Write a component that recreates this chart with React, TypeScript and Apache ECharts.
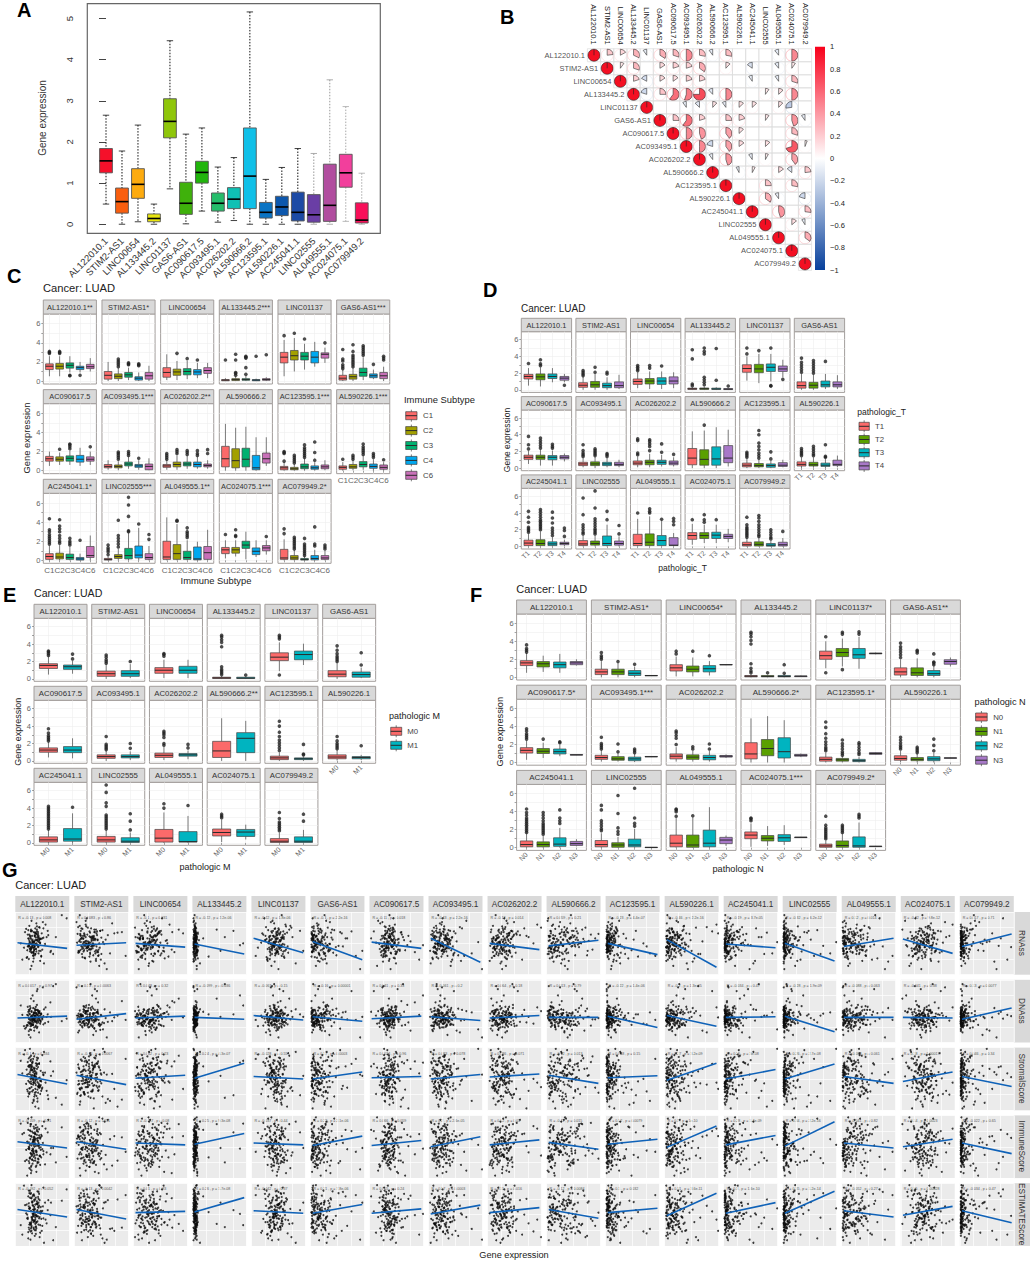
import { useEffect, useRef } from 'react';
import * as echarts from 'echarts';

const FONT = '"Liberation Sans", Arial, sans-serif';

const genes = ['AL122010.1', 'STIM2-AS1', 'LINC00654', 'AL133445.2', 'LINC01137', 'GAS6-AS1', 'AC090617.5', 'AC093495.1', 'AC026202.2', 'AL590666.2', 'AC123595.1', 'AL590226.1', 'AC245041.1', 'LINC02555', 'AL049555.1', 'AC024075.1', 'AC079949.2'];

// Panel A: min, q1, median, q3, max
const exprBoxes = [[.49, 1.25, 1.54, 1.84, 2.65], [0, .27, .55, .88, 1.78], [.06, .63, .97, 1.35, 2.41], [0, .06, .14, .25, .49], [.86, 2.1, 2.5, 3.05, 4.46], [.01, .24, .51, 1.02, 2.19], [.32, 1, 1.26, 1.53, 2.34], [.05, .32, .51, .76, 1.39], [.09, .38, .61, .89, 1.62], [0, .38, 1.17, 2.34, 5.16], [0, .15, .29, .53, 1.09], [0, .21, .42, .68, 1.38], [0, .08, .29, .78, 1.84], [0, .05, .23, .72, 1.72], [0, .07, .46, 1.46, 3.51], [.07, .9, 1.25, 1.7, 2.86], [0, .03, .1, .52, 1.24]];
const exprColors = ['#f5102a', '#f95e0e', '#fdab0f', '#e8e40e', '#8fc60a', '#3fb10b', '#21b50c', '#25bd6b', '#0fc0b4', '#10c0e8', '#0a74c4', '#0c57ad', '#1c4aa5', '#6a3ea5', '#b14d9f', '#f23f9c', '#f80f59'];
const exprWhiskers = ['#111', '#111', '#111', '#111', '#111', '#111', '#111', '#111', '#111', '#111', '#111', '#111', '#111', '#999', '#999', '#aaa', '#aaa'];

// Panel B: upper triangle of the correlation matrix, each row starts on the diagonal
const corrRows = [
  [1, .23, .17, .32, -.1, .34, .3, .5, .28, -.1, .28, 0, 0, 0, -.11, .5, 0],
  [1, .1, .3, 0, .16, .2, .2, .35, 0, .12, 0, -.15, 0, -.11, .1, 0],
  [1, .2, -.17, .16, .15, .2, .2, 0, 0, 0, -.1, 0, -.1, .3, 0],
  [1, -.2, .25, .6, .55, .75, -.12, .5, 0, 0, .1, .13, .5, 0],
  [1, 0, 0, -.1, -.13, .12, -.1, .13, .13, 0, .12, -.27, 0],
  [1, .25, .6, .2, 0, .25, .2, 0, .1, 0, .45, -.1],
  [1, .5, .45, 0, .4, .13, 0, 0, 0, .3, 0],
  [1, .5, -.2, .4, .15, 0, .13, 0, .7, .06],
  [1, -.1, .45, 0, -.1, .08, 0, .4, 0],
  [1, 0, -.08, .08, 0, .15, -.14, .23],
  [1, 0, 0, .25, 0, .28, 0],
  [1, 0, .35, -.1, 0, -.2],
  [1, 0, .45, 0, .27],
  [1, 0, .14, -.09],
  [1, 0, .35],
  [1, 0],
  [1],
];

// Panel C
const immuneStrips = ['AL122010.1**', 'STIM2-AS1*', 'LINC00654', 'AL133445.2***', 'LINC01137', 'GAS6-AS1***', 'AC090617.5', 'AC093495.1***', 'AC026202.2**', 'AL590666.2', 'AC123595.1***', 'AL590226.1***', 'AC245041.1*', 'LINC02555***', 'AL049555.1**', 'AC024075.1***', 'AC079949.2*'];
const immuneLevels = ['C1', 'C2', 'C3', 'C4', 'C6'];
const immuneColors = ['#fb6a6a', '#a3a000', '#00b070', '#00a8f0', '#c870b8'];
const immuneBoxes = [
  [[.5, 1.2, 1.55, 1.8, 2.6], [.5, 1.25, 1.55, 1.85, 2.6], [.9, 1.35, 1.65, 1.9, 2.6], [.9, 1.2, 1.4, 1.55, 2], [1, 1.3, 1.5, 1.75, 2.4]],
  [[0, .2, .6, 1, 2], [0, .25, .5, .75, 1.4], [.1, .4, .65, .9, 1.4], [0, .1, .3, .45, .9], [0, .2, .55, .9, 1.6]],
  [[.1, .4, .9, 1.4, 2.8], [.1, .6, .95, 1.25, 2.1], [.2, .65, 1, 1.3, 2.1], [.3, .65, .95, 1.2, 1.9], [.3, .8, 1.1, 1.4, 1.9]],
  [[0, .03, .1, .15, .3], [0, .05, .15, .25, .5], [0, .08, .15, .25, .5], [0, .03, .1, .15, .25], [0, .08, .15, .25, .4]],
  [[.5, 1.9, 2.5, 3, 4.3], [1, 2.2, 2.65, 3.2, 4.5], [1.2, 2.2, 2.6, 3, 3.9], [1.5, 1.9, 2.5, 3.1, 4.1], [1.9, 2.4, 2.8, 2.95, 3.5]],
  [[0, .1, .3, .6, 1.2], [0, .2, .45, .7, 1.4], [.1, .5, .9, 1.35, 2.5], [.2, .35, .55, .75, 1.2], [0, .25, .55, .9, 1.5]],
  [[.5, 1, 1.25, 1.5, 2], [.6, 1, 1.2, 1.45, 1.9], [.6, 1, 1.3, 1.55, 2.1], [.5, .9, 1.2, 1.6, 2.4], [.6, 1, 1.2, 1.45, 2]],
  [[.1, .3, .45, .65, 1.1], [.05, .3, .45, .6, 1], [.2, .5, .7, .9, 1.5], [.1, .35, .5, .65, 1.1], [.05, .1, .45, .7, 1.3]],
  [[.1, .35, .5, .65, 1.1], [.1, .4, .65, .9, 1.6], [.2, .5, .7, .9, 1.6], [.2, .4, .65, .9, 1.5], [.2, .4, .55, .7, 1.1]],
  [[0, .4, 1.25, 2.55, 4.9], [0, .3, 1.05, 2.3, 4.5], [0, .4, 1.2, 2.35, 4.6], [0, .1, .3, 1.6, 3.5], [.5, .8, 1.25, 1.85, 3.5]],
  [[0, .1, .3, .45, .9], [0, .1, .2, .35, .7], [0, .2, .4, .7, 1.3], [0, .15, .3, .5, .9], [.05, .2, .4, .6, 1.1]],
  [[0, .15, .35, .5, .9], [.05, .25, .4, .65, 1.1], [.1, .4, .65, .95, 1.6], [0, .25, .45, .7, 1.2], [0, .15, .35, .6, .9]],
  [[0, .1, .4, .7, 1.5], [0, .15, .35, .75, 1.6], [0, .1, .3, .65, 1.4], [0, .03, .15, .3, .7], [0, .3, .5, 1.45, 2.6]],
  [[0, .03, .1, .2, .4], [0, .2, .4, .6, 1.2], [0, .15, .5, 1.25, 2.9], [0, .25, .55, 1.5, 3.4], [0, .1, .3, .7, 1.5]],
  [[0, .1, .35, 2, 4.5], [0, .1, .7, 1.65, 3.8], [0, .1, .3, .95, 2.1], [0, .05, .15, 1.4, 1.95], [0, .1, .8, 1.45, 3.2]],
  [[.2, .7, 1.1, 1.35, 2.1], [.4, .75, 1.1, 1.35, 2.1], [.1, 1.25, 1.6, 2, 3], [.35, .6, .95, 1.3, 2.1], [.6, 1, 1.3, 1.55, 2.1]],
  [[0, .1, .25, 1.15, 2.2], [0, .08, .25, .5, 1.1], [0, .03, .1, .2, .45], [0, .05, .2, .5, 1.1], [0, .1, .25, .5, 1]],
];
const immuneOutliers = [
  [[2.9, 3, 3.1], [2.9, 3, 3.1], [.55, .6], [.6], []],
  [[], [1.5, 1.7, 1.9, 2.1, 2.3], [1.7, 1.8, 1.9], [1.6, 1.7, 1.8], []],
  [[], [2.9], [2.35], [2.2], []],
  [[2.2], [.6, .8, .9, 2.2, 2.8], [.7, 1.4, 2.4, 2.5, 2.6], [2.6], [2.75]],
  [[4.75], [5], [4.4], [], [4]],
  [[1.3, 1.5, 1.7, 2.1, 2.3, 3.3], [1.5, 1.7, 1.9, 2.1, 2.3, 2.5, 2.7, 3.1, 3.8], [2.7, 2.9, 3.1, 3.3, 3.5, 3.7], [1.75], [2.2, 2.4, 2.6]],
  [[], [2.25], [2.3, 2.5, 2.7, 2.8], [], [2.5]],
  [[], [1.2, 1.4, 1.6, 1.8, 1.95], [1.6, 1.8, 2], [1.3], []],
  [[1.2, 1.4, 1.6, 1.8], [1.8, 2, 2.2], [1.7, 1.9, 2.1], [1.6, 1.8, 2.1], [1.8, 2.2]],
  [[], [], [], [], []],
  [[1, 1.8, 1.9, 2], [.8, 1, 1.2, 1.4, 1.6], [1.4, 1.6, 1.8, 2, 2.2, 2.4, 2.7], [1.1, 1.9, 3], []],
  [[1.2], [1.2, 1.4, 1.6], [1.7, 1.9, 2.1, 2.3, 2.5, 2.8], [1.4, 1.6, 1.8], [1.15]],
  [[1.7, 1.9, 2.1, 2.3, 2.5, 2.7, 3, 3.2, 4.35], [1.8, 2, 2.3, 2.6, 3, 3.3, 3.6, 4.25], [1.6, 1.8, 2, 2.3], [2.1], []],
  [[.6, .9, 1.1, 1.3, 1.6], [1.4, 1.7, 2, 2.3, 2.6, 4.2], [3, 3.1, 4.6, 5.8, 6.6], [3.8], [2.2, 2.7]],
  [[], [4.1, 4.2], [2.4, 2.6, 2.8, 3, 3.4], [], []],
  [[2.7], [2.5, 2.6, 3.2], [], [], [2.5]],
  [[2.8, 3.3], [1.2, 1.4, 1.6, 1.8, 2, 2.2, 2.4], [.5, .7, .9, 1.1, 1.3, 1.5, 1.7, 2.3], [1.5, 1.7, 3.5], [1.2, 1.4, 1.6]],
];

// Panel D
const stageLevels = ['T1', 'T2', 'T3', 'T4'];
const stageColors = ['#fb6a6a', '#5aa000', '#00b4c0', '#a878c8'];
const stageBoxes = [
  [[.5, 1.3, 1.6, 1.85, 2.6], [.4, 1.2, 1.55, 1.9, 2.7], [.9, 1.35, 1.6, 1.9, 2.6], [.9, 1.15, 1.4, 1.6, 1.9]],
  [[0, .3, .55, .85, 1.6], [0, .3, .6, 1, 1.9], [0, .25, .5, .8, 1.5], [.1, .25, .5, .95, 1.8]],
  [[.2, .65, 1, 1.3, 2.1], [.1, .7, 1.05, 1.35, 2.2], [.1, .65, 1.05, 1.45, 2.2], [.2, .7, 1.05, 1.55, 2.1]],
  [[0, .05, .12, .2, .35], [0, .05, .13, .22, .4], [0, .05, .1, .2, .3], [0, .03, .08, .15, .25]],
  [[1.1, 2.1, 2.55, 3, 4], [.8, 2.05, 2.5, 3.05, 4.3], [1, 2.2, 2.7, 3.1, 4.3], [1.5, 2.2, 2.5, 2.85, 3.6]],
  [[0, .2, .5, .95, 1.9], [0, .2, .55, .9, 1.8], [.1, .35, .6, 1.05, 1.9], [.1, .35, .6, .95, 1.75]],
  [[.5, 1.05, 1.3, 1.55, 2.1], [.3, 1.05, 1.3, 1.55, 2.2], [.3, 1, 1.3, 1.5, 2.1], [.8, 1.1, 1.3, 1.5, 1.75]],
  [[.1, .3, .5, .7, 1.2], [0, .3, .5, .75, 1.3], [.1, .3, .5, .7, 1.2], [.1, .3, .45, .7, 1]],
  [[.1, .4, .6, .85, 1.4], [.1, .4, .7, .95, 1.7], [.2, .45, .7, .95, 1.6], [.2, .4, .6, .85, 1.3]],
  [[0, .4, 1.2, 2.35, 4.4], [0, .35, 1.05, 2.2, 4.5], [0, .35, 1.1, 2.55, 4.9], [.2, .65, 1.2, 2.7, 4.6]],
  [[0, .15, .35, .6, 1.1], [0, .15, .3, .55, 1], [0, .1, .3, .5, .9], [.1, .2, .35, .65, 1]],
  [[0, .25, .45, .75, 1.3], [.05, .25, .4, .7, 1.3], [0, .2, .35, .6, 1.1], [.1, .3, .45, .95, 1.5]],
  [[0, .1, .4, .75, 1.5], [0, .1, .35, .8, 1.8], [0, .1, .3, .55, 1.1], [.05, .2, .35, .5, .8]],
  [[0, .1, .3, .7, 1.3], [0, .15, .35, .65, 1.3], [0, .1, .35, 1.25, 2.6], [0, .15, .35, .65, 1.2]],
  [[0, .1, .35, 1.45, 3.3], [0, .1, .5, 1.5, 3.6], [0, .1, .7, 1.3, 3.1], [0, .1, .15, 1.05, 1.6]],
  [[.2, .85, 1.3, 1.65, 2.7], [.4, .95, 1.3, 1.65, 2.6], [.4, .95, 1.35, 1.7, 2.6], [.5, .95, 1.2, 1.45, 2.1]],
  [[0, .05, .2, .5, 1], [0, .05, .25, .55, 1.1], [0, .03, .15, .35, .7], [0, .05, .2, .5, 1]],
];
const stageOutliers = [
  [[3.15], [2.9, 3.1, 3.6], [], [.55]],
  [[1.7, 1.9, 2.1, 2.3], [2.1, 2.7], [1.9, 2.1], []],
  [[2.3, 2.5, 2.7, 2.9], [2.6, 2.9], [2.85], []],
  [[.5, .7, 3.7, 4.8], [.6, .9, 1.2, 1.5, 4.3, 4.6, 5], [1.15, 4.95], [.45]],
  [[4.3, 5], [4.7], [.45, .5, 5], [1.25]],
  [[2.1, 2.4, 2.7, 3, 3.3, 3.8], [2, 2.3, 2.6, 2.9, 3.2, 3.5], [3.4], []],
  [[2.3, 2.8, 3.8], [2.4, 2.7, 3, 3.3, 3.6], [2.4, 2.6, 2.85], []],
  [[1.4, 1.6, 1.8, 2.1, 2.8], [1.5, 1.7, 1.9, 2.1, 2.3], [1.4, 1.6, 1.75], []],
  [[1.6, 1.8, 3.3, 3.5], [2.1, 2.6, 2.9, 3.2, 3.4], [1.9, 2.9], [1.65]],
  [[], [5.15], [], []],
  [[1.3, 1.5, 1.7, 1.9], [1.2, 1.5, 1.8, 2.2, 2.6, 3, 4, 4.5], [1.1, 1.95], []],
  [[1.5, 1.7, 1.9, 2.1, 2.35], [1.5, 1.7, 2, 2.3, 2.6], [1.3, 1.4, 2.8], []],
  [[1.7, 1.9, 2.1, 2.3, 2.9, 3.5, 4.2], [2, 2.2, 2.4, 2.6, 2.8, 3, 3.2, 3.5, 3.8, 4.1, 4.4], [1.3, 1.6, 1.9, 2.2, 2.8, 3.4, 4.1], [1.2, 1.9, 2.2]],
  [[1.5, 1.7, 2, 2.3, 2.6, 3.8, 5.8], [1.5, 1.7, 1.9, 2.1, 2.4, 2.7, 3, 3.3, 4.6, 6.65], [3.2, 4.2], [1.5, 2.5]],
  [[4], [4, 4.2, 4.5], [3.25], [2.6, 3, 3.35]],
  [[3.2], [2.9, 3.2, 3.8], [3.2], []],
  [[1.1, 1.3, 1.5, 1.7, 1.9, 2.1, 2.3, 2.6, 3.5], [1.2, 1.4, 1.7, 2, 2.3, 2.6, 3, 3.4, 3.7], [.9, 1.1, 1.4, 1.7, 2], [1.8]],
];

// Panel E
const metaStrips = genes.map((g) => (g === 'AL590666.2' ? g + '**' : g));
const metaLevels = ['M0', 'M1'];
const metaColors = ['#fb6a6a', '#00b4c0'];
const metaBoxes = [
  [[.5, 1.2, 1.55, 1.75, 2.6], [.6, 1.1, 1.4, 1.6, 2.1]],
  [[0, .3, .6, .9, 1.7], [.1, .3, .6, .95, 1.7]],
  [[.1, .65, 1, 1.3, 2.2], [.1, .65, 1, 1.45, 2.2]],
  [[0, .05, .12, .2, .35], [0, .05, .1, .2, .3]],
  [[.9, 2.1, 2.5, 3, 4.2], [1.6, 2.2, 2.8, 3.2, 4.05]],
  [[0, .25, .55, .95, 1.9], [.1, .2, .5, .8, 1.3]],
  [[.4, 1, 1.25, 1.5, 2.2], [.3, .95, 1.25, 1.65, 2.6]],
  [[0, .3, .5, .7, 1.2], [.1, .35, .5, .7, 1.1]],
  [[.1, .4, .65, .9, 1.6], [.2, .55, .7, .85, 1.2]],
  [[0, .4, 1.15, 2.25, 4.9], [0, .95, 2.6, 3.25, 4.6]],
  [[0, .15, .35, .55, 1], [0, .15, .25, .35, .5]],
  [[.05, .25, .45, .7, 1.3], [.1, .25, .4, .5, .7]],
  [[0, .1, .35, .7, 1.5], [0, .2, .45, 1.65, 3.4]],
  [[0, .1, .35, .75, 1.5], [0, .05, .2, .6, 1.2]],
  [[0, .1, .55, 1.55, 3.5], [0, .1, .15, 1.3, 3.1]],
  [[.1, .8, 1.2, 1.6, 2.7], [.4, .75, 1.25, 1.55, 2.1]],
  [[0, .05, .2, .5, 1.2], [0, .05, .2, .7, 1.5]],
];
const metaOutliers = [
  [[2.7, 2.9, 3.1, 3.2], [2.3, 2.85]],
  [[1.8, 2, 2.2, 2.5, 2.75], [2]],
  [[2.6, 2.8, 2.9], []],
  [[.5, .7, .9, 1.1, 1.4, 3.7, 4.2, 4.5, 4.8, 5], [.45]],
  [[.45, 4.6, 4.8, 5], []],
  [[2, 2.2, 2.4, 2.6, 2.9, 3.3, 3.8], [1.6, 3]],
  [[2.3, 2.5, 2.7, 2.9, 3.2, 3.7], []],
  [[1.3, 1.5, 1.7, 1.9, 2.8], [1.45, 2]],
  [[1.8, 2, 2.7, 3, 3.2, 3.4], [1.5, 1.9]],
  [[], []],
  [[1.2, 1.5, 1.8, 2.1, 2.4, 2.8, 3.3, 4, 4.55], [.7, .8, 1.9]],
  [[1.4, 1.6, 1.8, 2, 2.3, 2.8], [1.75]],
  [[1.6, 1.8, 2, 2.2, 2.4, 2.6, 2.8, 3, 3.2, 3.4, 3.6, 3.8, 4, 4.2], [4.1]],
  [[1.6, 1.8, 2, 2.2, 2.4, 2.6, 2.8, 3, 3.2, 4.2, 4.6, 5.8, 6.65], [1.5, 2.5, 3.35]],
  [[4, 4.5], [4.3]],
  [[2.9, 3.1, 3.3], []],
  [[1.4, 1.6, 1.8, 2, 2.2, 2.4, 2.8, 3.5], [2.5, 3.3]],
];

// Panel F
const nodeStrips = ['AL122010.1', 'STIM2-AS1*', 'LINC00654*', 'AL133445.2', 'LINC01137*', 'GAS6-AS1**', 'AC090617.5*', 'AC093495.1***', 'AC026202.2', 'AL590666.2*', 'AC123595.1*', 'AL590226.1', 'AC245041.1', 'LINC02555', 'AL049555.1', 'AC024075.1***', 'AC079949.2*'];
const nodeLevels = ['N0', 'N1', 'N2', 'N3'];
const nodeColors = ['#fb6a6a', '#5aa000', '#00b4c0', '#a878c8'];
const nodeBoxes = [
  [[.5, 1.3, 1.6, 1.85, 2.7], [.6, 1.15, 1.5, 1.75, 2.4], [.5, 1.05, 1.4, 1.7, 2.6], [1.3, 1.4, 1.6, 1.75, 2]],
  [[0, .3, .6, .9, 1.8], [0, .3, .6, .9, 1.6], [0, .2, .45, .75, 1.2], [.15, .15, .2, .2, .22]],
  [[.1, .7, 1.05, 1.4, 2.3], [.1, .6, .9, 1.25, 2.2], [.2, .6, .95, 1.3, 1.8], [1.35, 1.38, 1.4, 1.42, 1.45]],
  [[0, .05, .12, .2, .35], [0, .05, .1, .2, .3], [0, .05, .1, .2, .3], [.05, .07, .12, .15, .2]],
  [[1, 2, 2.4, 2.9, 4], [1.2, 2.3, 2.75, 3.2, 4.3], [.95, 2.1, 2.5, 3.2, 4.5], [2.55, 2.6, 2.65, 2.7, 2.75]],
  [[0, .25, .6, 1.05, 2], [0, .2, .5, 1.05, 2.1], [0, .2, .4, .75, 1.3], [1.2, 1.45, 1.75, 1.95, 2.2]],
  [[.3, 1.05, 1.35, 1.65, 2.4], [.5, 1, 1.25, 1.55, 2.2], [.7, .95, 1.2, 1.5, 2], [.8, .82, .85, .88, .9]],
  [[.1, .35, .55, .8, 1.4], [.1, .25, .4, .65, 1.1], [.05, .2, .4, .6, 1], [.6, .62, .65, .67, .7]],
  [[.1, .4, .7, .95, 1.7], [.1, .35, .6, .85, 1.3], [.1, .3, .55, .8, 1.3], [.5, .6, .7, .78, .9]],
  [[0, .4, .95, 2.2, 4.9], [0, .75, 1.55, 2.55, 5.15], [0, .5, 1.2, 2.75, 4.7], [.6, .7, .8, .9, 1]],
  [[0, .15, .35, .6, 1.1], [0, .15, .3, .45, .7], [0, .1, .2, .35, .6], [.85, .9, 1, 1.1, 1.15]],
  [[.05, .25, .45, .75, 1.3], [0, .2, .35, .55, 1], [0, .2, .4, .65, 1.1], [.45, .47, .5, .52, .55]],
  [[0, .1, .35, .75, 1.6], [0, .1, .35, .65, 1.3], [0, .15, .4, 1.1, 2.2], [.15, .25, .45, .7, .95]],
  [[0, .1, .35, .8, 1.6], [0, .05, .3, .55, 1.2], [0, .1, .3, .95, 2.1], [0, .02, .03, .05, .08]],
  [[0, .1, .5, 1.4, 3.3], [0, .05, .3, 1.4, 3.4], [0, .1, .5, 1.95, 4.5], [.2, .45, .85, 1.15, 1.35]],
  [[.1, 1, 1.4, 1.75, 2.7], [.2, .75, 1.05, 1.35, 2.4], [.3, .7, 1.1, 1.45, 2.5], [1.1, 1.12, 1.15, 1.18, 1.2]],
  [[0, .05, .2, .4, .8], [0, .05, .25, .75, 1.6], [0, .05, .2, 1.2, 2.8], [.1, .12, .15, .17, .2]],
];
const nodeOutliers = [
  [[2.8, 3, 3.2, 3.6], [], [], []],
  [[2, 2.2, 2.4, 2.75], [1.75], [1.45], []],
  [[2.6, 2.9], [2.9], [2.4], []],
  [[.5, .7, 1, 1.5, 3.7, 4.1, 4.5, 4.8, 5], [.5], [.45, 1.4], []],
  [[.5, 4.5], [.85, 4.8, 5], [4.8, 5.05], []],
  [[2.2, 2.5, 2.8, 3.1, 3.4, 3.8], [2.7, 2.9, 3], [1.4, 1.6, 1.7, 2.6], []],
  [[2.6, 2.8, 3, 3.2, 3.5, 3.75], [2.6], [2.2, 2.3], []],
  [[1.5, 1.7, 1.9, 2.1, 2.8], [1.2, 2.05], [1.1, 1.3, 1.5], []],
  [[2, 2.7, 3, 3.3, 3.5], [1.5, 1.75], [1.5, 2.05], []],
  [[], [], [], []],
  [[1.3, 1.5, 1.7, 2, 2.3, 2.7, 3.2, 3.9, 4.5], [.8, 1, 1.2, 1.5, 1.8, 2.1, 2.5], [.9, 1.1, 1.4, 1.7, 2, 2.2], []],
  [[1.5, 1.7, 1.9, 2.2, 2.5, 2.8], [1.1, 1.3, 1.5, 1.7], [1.3, 1.9, 2.6], []],
  [[1.7, 1.9, 2.1, 2.3, 2.5, 2.7, 2.9, 3.1, 3.3, 3.6, 3.9, 4.3], [1.5, 1.7, 1.9, 2.1, 2.3, 2.5, 2.7, 3, 3.3, 3.6, 3.9], [2.7, 3, 3.3, 4.2], []],
  [[1.9, 2.1, 2.4, 2.7, 3, 4.2, 4.7], [1.5, 1.8, 2.2, 3.8, 5.8], [2.4, 2.7, 3.3, 6.6], []],
  [[3.5, 4, 4.2, 4.3], [3.55], [], []],
  [[3, 3.2, 3.3], [], [], []],
  [[1, 1.2, 1.4, 1.6, 1.8, 2, 2.2, 2.5, 3.5], [1.7, 1.9, 2.1, 2.3, 2.5], [3.3, 3.5, 3.7], []],
];

// Panel G: samples on a 0-100 scale of each panel, a sample keeps its position in every list
const scoreNames = ['RNAss', 'DNAss', 'StromalScore', 'ImmuneScore', 'ESTIMATEScore'];
const rnaScore = [52, 61, 44, 70, 38, 57, 66, 49, 35, 73, 55, 42, 63, 31, 78, 47, 59, 26, 68, 51, 40, 74, 33, 56, 64, 45, 82, 37, 60, 53, 29, 71, 48, 86, 43, 58, 21, 67, 50, 36, 76, 46, 62, 18, 54, 39, 69, 90, 34, 57, 72, 41, 24, 65, 49, 80, 30, 60, 44, 14, 75, 52, 37, 95, 47, 66, 27, 56, 40, 70, 9, 62, 50, 33, 84, 45, 58, 22, 68, 38,
  48, 55, 41, 63, 52, 36, 59, 46, 68, 43, 57, 50, 33, 62, 47, 54, 39, 65, 44, 58, 51, 30, 61, 45, 72, 49, 37, 56, 42, 66, 53, 28, 60, 46, 70, 40, 55, 48, 34, 64, 50, 43, 59, 38, 67, 52, 45, 77, 35, 57, 47, 62, 41, 53, 31, 69, 49, 58, 44, 25, 63, 51, 39, 55, 46, 74, 42, 60, 36, 50];
const dnaScore = [42, 35, 51, 28, 46, 38, 57, 31, 44, 24, 49, 40, 33, 54, 37, 60, 29, 47, 22, 43, 36, 52, 90, 39, 27, 48, 34, 58, 41, 19, 45, 32, 85, 50, 26, 37, 55, 43, 30, 64, 16, 46, 35, 53, 41, 28, 82, 38, 48, 33, 70, 25, 44, 39, 12, 56, 36, 93, 42, 30, 50, 21, 47, 34, 75, 40, 27, 52, 37, 45, 8, 32, 59, 43, 88, 29, 49, 35, 66, 41,
  38, 44, 31, 48, 36, 41, 27, 52, 34, 45, 39, 30, 47, 42, 25, 50, 37, 33, 55, 40, 28, 46, 35, 43, 23, 49, 32, 38, 53, 41, 29, 44, 36, 47, 20, 39, 51, 33, 42, 30, 46, 37, 26, 48, 40, 34, 57, 31, 43, 35, 24, 45, 38, 50, 28, 41, 33, 47, 36, 18, 44, 39, 30, 52, 35, 42, 27, 46, 37, 32];
const stromalScore = [55, 72, 38, 64, 47, 83, 29, 60, 91, 42, 75, 52, 18, 67, 35, 80, 57, 44, 96, 26, 70, 49, 62, 12, 77, 39, 58, 85, 31, 66, 46, 22, 73, 54, 89, 36, 61, 6, 50, 78, 41, 69, 25, 93, 56, 33, 74, 48, 15, 63, 87, 40, 59, 28, 71, 44, 82, 20, 53, 68, 37, 98, 51, 9, 76, 34, 65, 45, 86, 24, 57, 3, 79, 43, 60, 30, 70, 47, 17, 55,
  48, 66, 35, 58, 74, 42, 53, 27, 69, 45, 81, 38, 62, 50, 33, 72, 56, 23, 64, 43, 78, 31, 59, 47, 84, 37, 68, 52, 29, 75, 41, 57, 19, 63, 46, 88, 34, 70, 51, 26, 60, 44, 79, 36, 55, 65, 30, 49, 73, 40, 22, 61, 54, 83, 32, 67, 47, 39, 76, 58, 14, 50, 43, 71, 28, 56, 64, 37, 52, 45];
const immuneScore = [58, 40, 74, 30, 65, 50, 85, 22, 61, 45, 78, 35, 93, 54, 16, 69, 43, 82, 27, 63, 8, 71, 48, 37, 88, 56, 20, 76, 41, 66, 33, 95, 52, 12, 72, 46, 59, 28, 83, 38, 68, 24, 55, 90, 44, 4, 75, 34, 62, 49, 86, 18, 70, 31, 57, 79, 42, 25, 64, 97, 36, 53, 10, 81, 47, 67, 29, 60, 39, 73, 14, 51, 87, 32, 56, 44, 77, 21, 65, 48,
  46, 63, 32, 71, 52, 38, 80, 27, 59, 43, 67, 35, 55, 74, 24, 49, 61, 41, 86, 30, 57, 69, 36, 47, 77, 20, 53, 65, 33, 44, 72, 58, 26, 50, 39, 83, 62, 29, 54, 68, 42, 34, 75, 48, 60, 23, 56, 37, 66, 45, 79, 31, 51, 64, 40, 18, 70, 35, 55, 47, 81, 28, 62, 43, 73, 38, 52, 25, 58, 46];
const estimateScore = [62, 34, 78, 45, 56, 88, 25, 69, 41, 52, 83, 30, 73, 16, 59, 47, 93, 38, 65, 21, 76, 50, 9, 70, 43, 86, 28, 61, 36, 80, 54, 12, 67, 46, 96, 32, 58, 74, 23, 49, 64, 84, 39, 5, 71, 44, 55, 90, 27, 62, 35, 77, 18, 53, 68, 42, 81, 30, 48, 97, 14, 60, 37, 72, 51, 24, 66, 87, 40, 57, 10, 75, 33, 45, 63, 20, 79, 52, 29, 69,
  51, 68, 37, 59, 44, 76, 30, 63, 47, 55, 84, 33, 66, 41, 57, 26, 72, 49, 35, 61, 79, 43, 53, 22, 67, 38, 58, 46, 88, 31, 64, 50, 39, 74, 28, 56, 42, 69, 34, 60, 48, 82, 36, 54, 25, 65, 45, 71, 32, 52, 40, 77, 19, 62, 47, 56, 35, 73, 43, 29, 66, 51, 83, 38, 58, 44, 24, 69, 48, 34];
const scoreSamples = [rnaScore, dnaScore, stromalScore, immuneScore, estimateScore];
const geneSamples = [
  [35, 28, 42, 31, 47, 25, 38, 55, 33, 20, 44, 30, 61, 36, 26, 40, 52, 34, 18, 46, 29, 37, 70, 32, 23, 43, 39, 27, 58, 35, 48, 24, 41, 30, 16, 50, 33, 37, 28, 65, 44, 26, 36, 53, 31, 22, 40, 95, 34, 47, 29, 38, 13, 42, 25, 56, 33, 75, 36, 30, 45, 27, 39, 86, 32, 49, 21, 41, 35, 60, 28, 43, 10, 37, 51, 31, 24, 46, 34, 66,
    33, 40, 27, 36, 44, 30, 38, 25, 42, 34, 29, 46, 37, 31, 41, 26, 35, 39, 28, 43, 32, 48, 36, 24, 40, 30, 34, 45, 27, 38, 33, 22, 41, 35, 29, 50, 37, 31, 43, 26, 39, 34, 28, 44, 36, 32, 23, 40, 30, 47, 35, 27, 38, 42, 33, 29, 37, 45, 31, 25, 41, 34, 28, 39, 36, 52, 30, 43, 33, 26],
  [12, 33, 25, 48, 8, 39, 18, 55, 29, 15, 43, 22, 62, 35, 10, 27, 50, 20, 37, 5, 45, 31, 14, 58, 24, 41, 70, 17, 34, 9, 28, 52, 38, 21, 47, 13, 30, 80, 26, 44, 7, 36, 19, 56, 32, 11, 42, 23, 66, 16, 40, 28, 49, 6, 35, 21, 95, 30, 15, 46, 25, 53, 38, 10, 33, 74, 19, 43, 27, 12, 60, 36, 22, 50, 4, 31, 17, 40, 88, 24,
    20, 35, 14, 42, 27, 9, 31, 18, 38, 24, 12, 46, 29, 16, 34, 22, 40, 11, 26, 33, 19, 44, 28, 13, 37, 23, 8, 32, 17, 41, 25, 15, 36, 21, 48, 30, 10, 27, 39, 19, 34, 24, 14, 43, 29, 17, 33, 22, 7, 37, 26, 12, 31, 20, 45, 28, 16, 35, 23, 40, 11, 30, 18, 38, 25, 13, 34, 21, 42, 27],
  [22, 41, 10, 35, 55, 17, 47, 28, 6, 38, 62, 14, 31, 50, 24, 44, 8, 58, 33, 19, 71, 27, 40, 12, 52, 36, 21, 46, 4, 30, 65, 16, 43, 25, 56, 11, 37, 49, 20, 76, 34, 7, 42, 29, 60, 15, 26, 53, 39, 18, 84, 32, 9, 45, 23, 67, 37, 13, 48, 28, 3, 41, 57, 20, 34, 92, 16, 44, 26, 51, 10, 38, 63, 22, 31, 47, 18, 35, 72, 5,
    25, 38, 14, 44, 31, 8, 35, 20, 47, 27, 12, 40, 33, 17, 29, 42, 23, 10, 36, 26, 50, 15, 32, 21, 43, 28, 7, 37, 19, 45, 30, 13, 34, 24, 41, 16, 39, 22, 52, 11, 28, 35, 18, 46, 26, 33, 9, 38, 20, 30, 43, 14, 25, 36, 17, 48, 29, 12, 32, 22, 40, 27, 15, 34, 19, 44, 24, 37, 10, 31],
  [5, 8, 3, 6, 10, 4, 7, 2, 9, 5, 12, 6, 3, 8, 4, 7, 5, 10, 3, 6, 9, 4, 2, 7, 5, 11, 6, 3, 8, 4, 30, 5, 9, 3, 7, 6, 2, 10, 4, 8, 5, 3, 7, 14, 6, 9, 4, 2, 5, 8, 45, 3, 6, 10, 7, 4, 5, 60, 3, 8, 6, 2, 9, 4, 88, 7, 5, 3, 6, 76, 8, 4, 94, 5, 2, 7, 20, 3, 6, 52,
    4, 6, 3, 7, 5, 2, 8, 4, 6, 3, 5, 9, 4, 7, 2, 6, 3, 5, 8, 4, 6, 3, 7, 5, 2, 4, 6, 8, 3, 5, 7, 4, 2, 6, 3, 9, 5, 4, 7, 3, 6, 2, 5, 8, 4, 3, 6, 5, 7, 2, 4, 6, 3, 5, 8, 4, 7, 3, 5, 2, 6, 4, 9, 3, 5, 7, 4, 6, 2, 5],
  [45, 33, 56, 40, 62, 28, 50, 37, 68, 43, 25, 53, 47, 35, 72, 41, 58, 30, 48, 18, 64, 44, 38, 55, 22, 50, 42, 34, 76, 46, 60, 31, 52, 39, 12, 57, 43, 66, 36, 49, 27, 54, 41, 82, 33, 47, 59, 24, 44, 38, 70, 51, 29, 46, 35, 63, 8, 42, 53, 37, 74, 32, 48, 56, 40, 20, 61, 45, 34, 90, 50, 26, 43, 58, 36, 67, 47, 30, 54, 96,
    44, 52, 36, 58, 41, 48, 33, 55, 46, 39, 60, 43, 50, 35, 47, 54, 38, 62, 42, 49, 31, 56, 45, 37, 51, 40, 59, 34, 47, 53, 43, 28, 57, 39, 49, 44, 36, 61, 46, 52, 41, 33, 55, 48, 38, 50, 42, 64, 35, 47, 56, 40, 30, 53, 44, 37, 58, 45, 51, 34, 48, 41, 55, 26, 43, 50, 38, 60, 46, 32],
  [8, 22, 3, 15, 35, 5, 28, 11, 42, 18, 2, 25, 7, 48, 13, 31, 4, 20, 55, 10, 37, 6, 16, 26, 3, 60, 12, 33, 9, 21, 2, 44, 14, 29, 5, 68, 17, 38, 7, 24, 3, 52, 11, 30, 6, 19, 76, 4, 27, 13, 40, 8, 23, 2, 35, 15, 84, 5, 47, 10, 32, 18, 3, 26, 9, 58, 12, 41, 6, 21, 92, 4, 28, 16, 36, 7, 65, 14, 2, 96,
    10, 20, 5, 27, 14, 3, 23, 8, 17, 30, 6, 12, 25, 4, 18, 9, 33, 15, 2, 21, 7, 28, 11, 4, 19, 36, 6, 13, 24, 3, 16, 8, 31, 10, 5, 22, 14, 2, 26, 7, 18, 12, 39, 4, 20, 9, 29, 6, 15, 3, 24, 11, 34, 5, 17, 8, 22, 2, 13, 27, 6, 19, 10, 4, 32, 14, 7, 25, 3, 16],
  [32, 45, 24, 38, 56, 28, 41, 18, 50, 35, 64, 30, 43, 22, 37, 70, 27, 47, 33, 12, 53, 39, 26, 44, 60, 31, 20, 48, 36, 76, 29, 42, 52, 16, 34, 46, 25, 58, 38, 84, 30, 40, 23, 49, 33, 66, 8, 44, 28, 54, 36, 19, 92, 41, 31, 47, 26, 62, 35, 14, 43, 27, 51, 37, 99, 32, 45, 21, 56, 29, 39, 72, 34, 48, 24, 42, 3, 36, 59, 30,
    34, 42, 27, 38, 46, 30, 36, 24, 44, 33, 40, 28, 49, 35, 31, 43, 26, 37, 41, 29, 47, 32, 39, 22, 45, 34, 28, 52, 36, 30, 42, 25, 38, 44, 33, 27, 48, 35, 40, 29, 46, 31, 37, 23, 43, 34, 50, 28, 39, 32, 41, 26, 45, 36, 30, 47, 33, 24, 42, 37, 29, 54, 35, 40, 27, 44, 31, 38, 21, 46],
  [20, 32, 12, 40, 25, 8, 35, 16, 48, 28, 6, 38, 22, 55, 14, 30, 43, 18, 10, 36, 26, 62, 15, 33, 5, 45, 21, 29, 11, 52, 24, 37, 17, 70, 9, 31, 42, 19, 27, 13, 58, 34, 23, 4, 39, 16, 47, 26, 80, 12, 30, 20, 44, 8, 35, 24, 66, 15, 28, 41, 10, 92, 33, 18, 22, 50, 7, 37, 27, 14, 99, 31, 19, 46, 25, 11, 34, 60, 21, 3,
    22, 30, 14, 36, 25, 10, 33, 18, 28, 12, 38, 20, 26, 8, 32, 16, 42, 24, 11, 29, 19, 35, 13, 27, 21, 40, 9, 31, 17, 23, 34, 15, 44, 26, 7, 30, 20, 37, 12, 28, 18, 33, 10, 24, 16, 39, 22, 29, 14, 35, 25, 11, 31, 19, 46, 27, 13, 21, 36, 8, 32, 17, 26, 41, 23, 15, 34, 20, 28, 12],
  [22, 36, 12, 44, 28, 8, 40, 18, 52, 32, 15, 25, 60, 38, 10, 47, 20, 34, 6, 42, 27, 68, 16, 30, 54, 13, 37, 23, 76, 9, 45, 29, 19, 35, 50, 11, 26, 41, 85, 17, 33, 5, 48, 24, 39, 14, 56, 31, 21, 43, 7, 28, 64, 36, 18, 92, 12, 46, 25, 34, 99, 20, 40, 15, 30, 53, 8, 38, 22, 44, 27, 72, 10, 35, 49, 17, 32, 4, 26, 41,
    24, 33, 14, 40, 28, 10, 36, 19, 30, 12, 44, 22, 27, 16, 38, 9, 31, 25, 47, 18, 34, 13, 29, 41, 21, 8, 35, 26, 17, 39, 23, 32, 11, 43, 20, 28, 15, 37, 25, 49, 12, 30, 18, 35, 22, 9, 33, 27, 42, 16, 24, 38, 13, 29, 20, 46, 31, 11, 26, 36, 19, 23, 40, 15, 34, 28, 10, 21, 32, 17],
  [12, 35, 5, 50, 20, 68, 8, 42, 28, 16, 58, 3, 32, 75, 10, 24, 46, 6, 38, 62, 14, 54, 4, 30, 82, 18, 44, 7, 26, 70, 11, 36, 52, 2, 22, 90, 13, 40, 60, 9, 33, 48, 5, 27, 78, 15, 56, 3, 37, 19, 66, 8, 29, 96, 43, 12, 24, 50, 6, 34, 72, 17, 4, 45, 21, 58, 10, 31, 85, 7, 39, 16, 64, 2, 25, 53, 13, 41, 28, 76,
    18, 38, 8, 48, 26, 14, 56, 6, 33, 22, 43, 10, 30, 52, 16, 4, 36, 24, 60, 12, 41, 20, 7, 46, 28, 15, 34, 54, 9, 25, 39, 18, 5, 31, 47, 13, 22, 58, 11, 35, 27, 6, 44, 17, 32, 50, 10, 23, 40, 14, 29, 4, 37, 20, 53, 8, 26, 42, 16, 33, 12, 48, 21, 6, 30, 38, 15, 45, 24, 9],
  [6, 14, 3, 22, 9, 2, 18, 5, 28, 11, 4, 35, 7, 16, 3, 24, 10, 42, 5, 13, 2, 20, 8, 52, 4, 30, 12, 6, 3, 17, 60, 9, 2, 25, 5, 38, 14, 7, 70, 3, 19, 10, 4, 27, 6, 48, 2, 12, 82, 8, 21, 3, 15, 33, 5, 9, 92, 2, 23, 11, 4, 18, 6, 44, 3, 13, 26, 7, 2, 56, 10, 16, 4, 36, 5, 76, 8, 20, 3, 12,
    5, 10, 3, 15, 7, 2, 12, 4, 18, 8, 3, 6, 21, 11, 2, 14, 5, 9, 3, 17, 6, 4, 24, 8, 2, 13, 5, 10, 3, 19, 7, 4, 11, 2, 16, 6, 3, 27, 9, 5, 2, 13, 4, 8, 20, 3, 6, 12, 2, 15, 7, 4, 10, 3, 23, 5, 8, 2, 14, 6, 3, 11, 4, 18, 2, 9, 5, 7, 3, 16],
  [12, 25, 6, 33, 18, 4, 40, 9, 21, 14, 48, 7, 28, 3, 36, 16, 10, 55, 23, 5, 30, 13, 62, 8, 19, 44, 4, 26, 11, 70, 17, 6, 38, 22, 3, 15, 52, 9, 32, 12, 78, 5, 24, 41, 7, 18, 88, 10, 29, 4, 35, 14, 6, 46, 20, 96, 8, 27, 3, 16, 58, 11, 37, 5, 22, 99, 9, 31, 13, 4, 43, 19, 7, 66, 25, 10, 34, 3, 15, 50,
    14, 23, 7, 30, 18, 5, 26, 10, 16, 34, 8, 20, 12, 4, 28, 15, 9, 24, 6, 19, 37, 11, 3, 22, 13, 17, 7, 32, 25, 10, 5, 20, 14, 29, 8, 18, 12, 40, 6, 23, 15, 9, 27, 4, 17, 11, 21, 35, 7, 13, 26, 5, 19, 10, 31, 16, 8, 24, 3, 14, 20, 6, 28, 12, 18, 9, 38, 15, 5, 22],
  [4, 12, 2, 25, 7, 18, 3, 32, 9, 5, 40, 14, 2, 22, 6, 50, 10, 3, 28, 16, 4, 60, 8, 2, 36, 11, 5, 20, 70, 3, 13, 7, 45, 2, 26, 9, 4, 80, 15, 6, 34, 3, 19, 55, 8, 2, 24, 12, 90, 5, 30, 3, 10, 42, 7, 17, 2, 65, 4, 21, 6, 99, 11, 3, 38, 8, 15, 2, 28, 5, 48, 13, 3, 75, 9, 23, 4, 58, 6, 33,
    5, 14, 3, 20, 8, 2, 11, 6, 26, 4, 16, 2, 9, 7, 23, 3, 12, 5, 18, 2, 10, 6, 30, 4, 13, 3, 8, 21, 2, 15, 7, 4, 25, 3, 10, 5, 17, 2, 6, 12, 33, 3, 9, 4, 19, 2, 7, 14, 5, 28, 3, 11, 2, 8, 22, 4, 6, 16, 2, 13, 5, 36, 3, 10, 7, 2, 18, 4, 9, 3],
  [3, 9, 2, 15, 5, 22, 3, 7, 12, 2, 30, 4, 18, 6, 2, 26, 10, 3, 40, 5, 14, 2, 8, 52, 3, 20, 6, 35, 2, 11, 4, 64, 16, 3, 7, 24, 2, 45, 5, 13, 3, 75, 9, 2, 28, 4, 17, 6, 88, 3, 10, 2, 33, 5, 19, 3, 58, 7, 2, 23, 4, 99, 12, 3, 38, 6, 15, 2, 9, 48, 3, 21, 5, 70, 2, 11, 4, 27, 7, 3,
    3, 8, 2, 12, 4, 6, 2, 15, 3, 9, 5, 2, 18, 4, 7, 3, 11, 2, 6, 14, 3, 5, 2, 20, 4, 10, 2, 7, 3, 13, 5, 2, 24, 3, 8, 4, 2, 16, 6, 3, 10, 2, 5, 12, 3, 7, 2, 28, 4, 9, 3, 2, 15, 5, 3, 11, 2, 6, 19, 3, 8, 2, 4, 13, 3, 7, 2, 32, 5, 3],
  [5, 20, 38, 3, 28, 12, 48, 6, 33, 16, 58, 2, 24, 9, 42, 30, 4, 66, 18, 7, 36, 52, 3, 14, 26, 76, 8, 44, 2, 21, 11, 34, 60, 5, 17, 40, 86, 3, 25, 10, 50, 6, 31, 15, 2, 46, 22, 70, 4, 13, 37, 8, 56, 19, 3, 28, 94, 7, 41, 12, 2, 32, 16, 62, 5, 24, 10, 47, 3, 35, 80, 6, 18, 27, 2, 53, 9, 38, 14, 4,
    8, 25, 14, 35, 4, 20, 11, 42, 6, 28, 16, 3, 32, 10, 22, 5, 38, 13, 26, 7, 18, 45, 4, 30, 12, 21, 3, 36, 9, 24, 15, 6, 48, 19, 2, 33, 11, 27, 8, 40, 5, 17, 23, 3, 29, 13, 37, 7, 20, 10, 34, 4, 26, 15, 44, 6, 18, 2, 31, 12, 22, 8, 39, 5, 16, 27, 3, 35, 10, 24],
  [42, 28, 55, 35, 65, 20, 48, 32, 72, 38, 25, 58, 45, 15, 52, 30, 62, 40, 18, 78, 35, 50, 26, 68, 44, 12, 56, 33, 84, 47, 22, 60, 37, 8, 53, 29, 70, 41, 24, 63, 46, 34, 90, 19, 51, 39, 74, 27, 57, 43, 3, 66, 31, 49, 36, 96, 23, 59, 45, 16, 54, 30, 76, 40, 10, 61, 33, 48, 26, 69, 38, 21, 52, 44, 82, 35, 13, 56, 28, 64,
    40, 50, 30, 58, 37, 46, 25, 54, 43, 34, 62, 41, 28, 52, 47, 36, 57, 32, 44, 23, 60, 39, 49, 29, 55, 42, 35, 51, 26, 64, 38, 45, 31, 56, 40, 48, 33, 59, 27, 53, 43, 36, 47, 21, 61, 41, 34, 50, 30, 57, 44, 38, 24, 52, 46, 33, 66, 40, 28, 55, 37, 49, 31, 43, 58, 35, 20, 51, 42, 29],
  [4, 9, 2, 14, 6, 3, 18, 5, 2, 24, 8, 3, 11, 2, 30, 6, 4, 16, 2, 38, 7, 3, 12, 46, 5, 2, 20, 9, 3, 55, 4, 13, 2, 28, 6, 3, 64, 8, 2, 17, 5, 72, 3, 10, 2, 34, 4, 80, 7, 2, 22, 3, 88, 6, 42, 2, 15, 5, 95, 3, 9, 50, 2, 26, 4, 60, 8, 3, 19, 2, 68, 5, 12, 3, 36, 2, 76, 7, 4, 44,
    3, 7, 2, 10, 5, 2, 13, 4, 2, 8, 3, 6, 2, 16, 4, 3, 9, 2, 5, 11, 3, 2, 7, 4, 19, 2, 6, 3, 12, 2, 5, 8, 3, 22, 2, 4, 10, 3, 6, 2, 14, 5, 2, 7, 3, 25, 4, 2, 9, 3, 6, 2, 17, 4, 3, 8, 2, 11, 5, 2, 28, 3, 7, 4, 2, 13, 3, 6, 2, 10],
];
const trendLeft = [
  [51, 47, 50, 49, 58, 53, 52, 58, 50, 46, 50, 56, 49, 50, 45, 57, 45],
  [39, 37, 39, 40, 43, 41, 38, 41, 39, 40, 42, 43, 40, 42, 40, 40, 37],
  [57, 56, 51, 51, 54, 50, 52, 50, 53, 56, 52, 48, 50, 50, 54, 46, 54],
  [58, 58, 56, 54, 56, 52, 52, 50, 53, 57, 54, 49, 53, 51, 56, 50, 56],
  [58, 58, 53, 54, 56, 52, 52, 51, 53, 58, 53, 48, 52, 52, 56, 49, 56],
];
const trendRight = [
  [42, 51, 44, 33, 35, 24, 42, 20, 40, 55, 32, 12, 43, 22, 58, 34, 65],
  [42, 46, 42, 37, 36, 34, 42, 35, 43, 40, 24, 26, 41, 17, 40, 39, 55],
  [42, 41, 56, 75, 50, 61, 54, 57, 58, 43, 55, 75, 65, 74, 43, 61, 38],
  [48, 46, 53, 71, 53, 67, 60, 66, 61, 46, 62, 83, 68, 90, 48, 62, 39],
  [46, 43, 55, 77, 52, 66, 59, 65, 61, 44, 60, 84, 69, 87, 46, 63, 37],
];
const corrLabels = [
  ['R = -0.13 , p = 0.008', 'R = 0.0083 , p = 0.86', 'R = -0.1 , p = 0.031', 'R = -0.22 , p = 2.2e-06', 'R = -0.22 , p = 1.8e-06', 'R = -0.4 , p = 2.2e-16', 'R = -0.11 , p = 0.018', 'R = -0.43 , p = 2.2e-16', 'R = -0.12 , p = 0.014', 'R = 0.059 , p = 0.21', 'R = -0.23 , p = 4.4e-07', 'R = -0.46 , p < 2.2e-16', 'R = -0.19 , p = 3.7e-05', 'R = -0.32 , p = 6.2e-12', 'R = 0.12 , p = 0.014', 'R = -0.32 , p = 9.8e-12', 'R = 0.017 , p = 0.71'],
  ['R = 0.0017 , p = 0.97', 'R = 0.13 , p = 0.0063', 'R = 0.048 , p = 0.32', 'R = -0.099 , p = 0.036', 'R = -0.067 , p = 0.15', 'R = -0.16 , p = 0.00001', 'R = 0.041 , p = 0.33', 'R = -0.061 , p = 0.2', 'R = 0.064 , p = 0.18', 'R = 0.013 , p = 0.79', 'R = -0.22 , p = 1.4e-06', 'R = -0.2 , p = 1.3e-05', 'R = -0.034 , p = 0.47', 'R = -0.28 , p = 1.9e-09', 'R = -0.088 , p = 0.063', 'R = -0.041 , p = 0.38', 'R = 0.13 , p = 0.0077'],
  ['R = -0.1 , p = 0.034', 'R = -0.13 , p = 0.0067', 'R = 0.062 , p = 0.23', 'R = 0.24 , p = 4.3e-07', 'R = -0.028 , p = 0.55', 'R = 0.17 , p = 0.0003', 'R = 0.0024 , p = 0.96', 'R = 0.083 , p = 0.078', 'R = 0.086 , p = 0.071', 'R = -0.12 , p = 0.013', 'R = 0.068 , p = 0.15', 'R = 0.27 , p = 3.2e-09', 'R = 0.25 , p = 3e-08', 'R = 0.26 , p = 2.7e-08', 'R = -0.088 , p = 0.061', 'R = 0.18 , p = 0.00017', 'R = 0.046 , p = 0.34'],
  ['R = -0.059 , p = 0.21', 'R = -0.12 , p = 0.011', 'R = -0.057 , p = 0.08', 'R = 0.25 , p = 9.3e-08', 'R = -0.037 , p = 0.44', 'R = 0.22 , p = 2.1e-06', 'R = 0.066 , p = 0.059', 'R = 0.2 , p = 2.6e-05', 'R = 0.12 , p = 0.01', 'R = -0.11 , p = 0.015', 'R = 0.12 , p = 0.0079', 'R = 0.3 , p = 1e-10', 'R = 0.28 , p = 1.4e-09', 'R = 0.34 , p = 2.2e-16', 'R = -0.041 , p = 0.82', 'R = 0.14 , p = 0.0023', 'R = -0.022 , p = 0.65'],
  ['R = -0.092 , p = 0.052', 'R = -0.13 , p = 0.0042', 'R = 0.01 , p = 0.83', 'R = 0.26 , p = 1.7e-08', 'R = -0.042 , p = 0.37', 'R = 0.21 , p = 7.8e-06', 'R = 0.055 , p = 0.24', 'R = 0.17 , p = 0.0003', 'R = 0.11 , p = 0.016', 'R = -0.12 , p = 0.0084', 'R = 0.1 , p = 0.032', 'R = 0.31 , p = 3.6e-11', 'R = 0.3 , p = 1.6e-10', 'R = 0.35 , p = 1.2e-14', 'R = -0.052 , p = 0.27', 'R = 0.15 , p = 0.00028', 'R = -0.034 , p = 0.47'],
];

const facetPanels = [
  { boxes: immuneBoxes, outliers: immuneOutliers, strips: immuneStrips, levels: immuneLevels, colors: immuneColors, left: 43.3, stepX: 58.67, w: 53.1, top: 314, stepY: 89.65, h: 70, stripH: 14, yMin: -0.31, yMax: 7.02, rotate: 0, labelSize: 8, stripSize: 7.4, titleSize: 11.2, axisSize: 9.4, title: [43, 288], xTitle: ['Immune Subtype', 216, 580.7], yTitle: [26.7, 438], legend: { title: 'Immune Subtype', x: 404, y: 399, keyX: 405.7, keyW: 11.3, first: 415.7, step: 14.9, textX: 423 } },
  { boxes: stageBoxes, outliers: stageOutliers, strips: genes, levels: stageLevels, colors: stageColors, left: 521.3, stepX: 54.6, w: 50.3, top: 331.7, stepY: 78.3, h: 60.7, stripH: 13.4, yMin: -0.31, yMax: 6.96, rotate: 45, labelSize: 7, stripSize: 7.4, titleSize: 10, axisSize: 8.5, title: [521, 308], xTitle: ['pathologic_T', 682.7, 568], yTitle: [506.7, 440], legend: { title: 'pathologic_T', x: 857.3, y: 411.7, keyX: 859, keyW: 10.3, first: 426.3, step: 13.2, textX: 875 } },
  { boxes: metaBoxes, outliers: metaOutliers, strips: metaStrips, levels: metaLevels, colors: metaColors, left: 34, stepX: 57.73, w: 53, top: 618.3, stepY: 82, h: 63, stripH: 14, yMin: -0.27, yMax: 6.96, rotate: 45, labelSize: 7, stripSize: 7.8, titleSize: 10.6, axisSize: 9, title: [34, 593], xTitle: ['pathologic M', 205, 867.3], yTitle: [18, 731.7], legend: { title: 'pathologic M', x: 389, y: 716, keyX: 390.7, keyW: 11, first: 731.3, step: 14, textX: 407.3 } },
  { boxes: nodeBoxes, outliers: nodeOutliers, strips: nodeStrips, levels: nodeLevels, colors: nodeColors, left: 516.6, stepX: 74.8, w: 69.8, top: 614, stepY: 85.2, h: 66, stripH: 14, yMin: -0.3, yMax: 7.03, rotate: 45, labelSize: 7, stripSize: 8, titleSize: 11, axisSize: 9.2, title: [516.2, 589.3], xTitle: ['pathologic N', 738, 869], yTitle: [500.4, 731.7], legend: { title: 'pathologic N', x: 974.6, y: 701.7, keyX: 975.6, keyW: 11.6, first: 717, step: 14.4, textX: 993.2 } },
];

function label(x: number, y: number, text: string, size: number, opts: any = {}) {
  return {
    type: 'text', x, y, silent: true, rotation: opts.rotation || 0,
    style: { text, fontSize: size, fontFamily: FONT, fontWeight: opts.weight || 'normal', fill: opts.fill || '#222', align: opts.align || 'left', verticalAlign: 'middle' },
  };
}

function boxRenderer(colors: string[], opts: any) {
  return (params: any, api: any) => {
    const i = params.dataIndex;
    const x = api.value(0);
    const at = (d: number) => api.coord([x, api.value(d)]);
    const cx = at(1)[0];
    const [low, q1, med, q3, high] = [at(1)[1], at(2)[1], at(3)[1], at(4)[1], at(5)[1]];
    const half = api.size([opts.width, 0])[0] / 2;
    const whisker = { stroke: opts.whiskers ? opts.whiskers[i] : opts.stroke, lineWidth: opts.whiskerWidth, lineDash: opts.dash };
    const children: any[] = [
      { type: 'line', shape: { x1: cx, y1: high, x2: cx, y2: q3 }, style: whisker },
      { type: 'line', shape: { x1: cx, y1: q1, x2: cx, y2: low }, style: whisker },
      { type: 'rect', shape: { x: cx - half, y: q3, width: half * 2, height: Math.max(q1 - q3, 0.4) }, style: { fill: colors[i], stroke: opts.stroke, lineWidth: opts.lineWidth } },
      { type: 'line', shape: { x1: cx - half, y1: med, x2: cx + half, y2: med }, style: { stroke: opts.median, lineWidth: opts.medianWidth } },
    ];
    if (opts.caps) {
      const capStyle = { stroke: whisker.stroke, lineWidth: 0.8 };
      children.push({ type: 'line', shape: { x1: cx - half / 2, y1: high, x2: cx + half / 2, y2: high }, style: capStyle });
      children.push({ type: 'line', shape: { x1: cx - half / 2, y1: low, x2: cx + half / 2, y2: low }, style: capStyle });
    }
    return { type: 'group', children };
  };
}

function corrColor(r: number) {
  return r >= 0
    ? echarts.color.lerp(r, ['#ffffff', '#f30f22'])
    : echarts.color.lerp(-r, ['#ffffff', '#0a3f9e']);
}

function renderCorrCell(_params: any, api: any) {
  const [cx, cy] = api.coord([api.value(0), api.value(1)]);
  const r = api.value(2);
  const cw = api.size([1, 0])[0];
  const ch = api.size([0, 1])[1];
  const radius = 6;
  const children: any[] = [
    { type: 'rect', shape: { x: cx - cw / 2, y: cy - ch / 2, width: cw, height: ch }, style: { fill: 'none', stroke: '#dcdcdc', lineWidth: 0.7 } },
  ];
  if (r === 1) {
    children.push({ type: 'circle', shape: { cx, cy, r: radius }, style: { fill: '#f30f22', stroke: '#222', lineWidth: 0.6 } });
    children.push({ type: 'line', shape: { x1: cx, y1: cy, x2: cx, y2: cy - radius }, style: { stroke: '#222', lineWidth: 0.6 } });
  } else if (r !== 0) {
    const end = -Math.PI / 2 + (r > 0 ? 1 : -1) * 2 * Math.PI * Math.abs(r);
    children.push({ type: 'circle', shape: { cx, cy, r: radius }, style: { fill: 'none', stroke: corrColor(r * 0.8), lineWidth: 0.6 } });
    children.push({ type: 'sector', shape: { cx, cy, r: radius, r0: 0, startAngle: -Math.PI / 2, endAngle: end, clockwise: r > 0 }, style: { fill: corrColor(r), stroke: '#333', lineWidth: 0.6 } });
  }
  return { type: 'group', children };
}

function buildOption() {
  const grid: any[] = [];
  const xAxis: any[] = [];
  const yAxis: any[] = [];
  const series: any[] = [];
  const graphic: any[] = [];
  const tickLabel = { color: '#666', fontFamily: FONT };

  // Panel letters
  const letters: [string, number, number][] = [['A', 17, 10], ['B', 500, 17], ['C', 7, 276], ['D', 483, 290], ['E', 3, 595], ['F', 470, 595], ['G', 2, 870]];
  letters.forEach(([t, x, y]) => graphic.push(label(x, y, t, 20, { weight: 'bold', fill: '#000' })));

  // Panel A
  grid.push({ left: 87.3, top: 3.7, width: 293, height: 229.6, show: true, borderColor: '#666', borderWidth: 1.2, backgroundColor: '#fff' });
  xAxis.push({
    type: 'value', gridIndex: 0, min: -1.17, max: 17.16, splitLine: { show: false }, axisLine: { show: false },
    axisTick: { show: false, customValues: genes.map((_, i) => i) },
    axisLabel: { customValues: genes.map((_, i) => i), formatter: (v: number) => genes[v], rotate: 45, fontSize: 9.5, color: '#333', fontFamily: FONT, margin: 6 },
  });
  yAxis.push({
    type: 'value', gridIndex: 0, min: -0.22, max: 5.36, splitLine: { show: false }, axisLine: { show: false },
    axisTick: { show: true, length: 7, lineStyle: { color: '#444' }, customValues: [0, 1, 2, 3, 4, 5] },
    axisLabel: { customValues: [0, 1, 2, 3, 4, 5], rotate: 90, fontSize: 9.5, color: '#333', fontFamily: FONT, margin: 13 },
  });
  series.push({
    type: 'custom', xAxisIndex: 0, yAxisIndex: 0, silent: true, encode: { x: 0, y: [1, 2, 3, 4, 5] },
    renderItem: boxRenderer(exprColors, { width: 0.8, stroke: '#555', lineWidth: 0.9, median: '#000', medianWidth: 1.6, whiskers: exprWhiskers, whiskerWidth: 1, dash: [1.5, 1.5], caps: true }),
    data: exprBoxes.map((b, i) => [i, ...b]),
  });
  graphic.push(label(42, 118, 'Gene expression', 10, { rotation: Math.PI / 2, align: 'center', fill: '#333' }));

  // Panel B
  grid.push({ left: 587.4, top: 46.4, width: 224.2, height: 224 });
  xAxis.push({
    type: 'category', gridIndex: 1, position: 'top', data: genes, axisLine: { show: false }, axisTick: { show: false }, splitLine: { show: false },
    axisLabel: { rotate: 90, interval: 0, fontSize: 7.5, color: '#222', fontFamily: FONT, margin: 4 },
  });
  yAxis.push({ type: 'category', gridIndex: 1, inverse: true, data: genes, axisLine: { show: false }, axisTick: { show: false }, axisLabel: { show: false }, splitLine: { show: false } });
  const cells: number[][] = [];
  corrRows.forEach((row, i) => row.forEach((r, k) => cells.push([i + k, i, r])));
  series.push({ type: 'custom', xAxisIndex: 1, yAxisIndex: 1, silent: true, encode: { x: 0, y: 1 }, renderItem: renderCorrCell, data: cells });
  series.push({
    type: 'scatter', xAxisIndex: 1, yAxisIndex: 1, silent: true, symbolSize: 0,
    data: genes.map((g, i) => [i, i]),
    label: { show: true, position: 'left', distance: 9, fontSize: 7.5, color: '#222', fontFamily: FONT, formatter: (p: any) => genes[p.dataIndex] },
  });

  // colour bar of panel B
  grid.push({ left: 815, top: 46.7, width: 10, height: 223.3 });
  xAxis.push({ type: 'value', gridIndex: 2, min: 0, max: 1, show: false });
  yAxis.push({
    type: 'value', gridIndex: 2, position: 'right', min: -1, max: 1, interval: 0.2, splitLine: { show: false }, axisLine: { show: false },
    axisTick: { show: false },
    axisLabel: { fontSize: 7.5, color: '#222', fontFamily: FONT, margin: 5, formatter: (v: number) => String(Math.round(v * 10) / 10).replace('-', '\u2212') },
  });
  series.push({
    type: 'custom', xAxisIndex: 2, yAxisIndex: 2, silent: true, encode: { y: [1, 2] }, data: [[0, -1, 1]],
    renderItem: (_p: any, api: any) => {
      const a = api.coord([0, api.value(2)]);
      const b = api.coord([1, api.value(1)]);
      return {
        type: 'rect', shape: { x: a[0], y: a[1], width: b[0] - a[0], height: b[1] - a[1] },
        style: { fill: new echarts.graphic.LinearGradient(0, 0, 0, 1, [{ offset: 0, color: '#f8001a' }, { offset: 0.5, color: '#ffffff' }, { offset: 1, color: '#07409c' }]) },
      };
    },
  });

  // Panels C, D, E, F
  facetPanels.forEach((fp) => {
    const n = fp.levels.length;
    const ticks = fp.levels.map((_, i) => i + 1);
    fp.strips.forEach((strip, k) => {
      const col = k % 6;
      const row = Math.floor(k / 6);
      const left = fp.left + col * fp.stepX;
      const top = fp.top + row * fp.stepY;
      const gi = grid.length;
      grid.push({ left, top, width: fp.w, height: fp.h, show: true, borderColor: '#a39e9c', borderWidth: 1, backgroundColor: '#fff' });
      const showX = k >= 11;
      xAxis.push({
        type: 'value', gridIndex: gi, min: 0.4, max: n + 0.6, axisLine: { show: false },
        splitLine: { show: true, lineStyle: { color: '#efefef', width: 0.6 } },
        axisTick: { show: showX, length: 2, lineStyle: { color: '#666', width: 0.6 }, customValues: ticks },
        axisLabel: { show: showX, customValues: ticks, formatter: (v: number) => fp.levels[v - 1], rotate: fp.rotate, fontSize: fp.labelSize, margin: 3, ...tickLabel },
      });
      yAxis.push({
        type: 'value', gridIndex: gi, min: fp.yMin, max: fp.yMax, axisLine: { show: false },
        splitLine: { show: true, lineStyle: { color: '#efefef', width: 0.6 } },
        axisTick: { show: col === 0, length: 2, lineStyle: { color: '#666', width: 0.6 }, customValues: [0, 1, 2, 3, 4, 5, 6] },
        axisLabel: { show: col === 0, customValues: [0, 2, 4, 6], fontSize: 7.5, margin: 3, ...tickLabel },
      });
      series.push({
        type: 'custom', xAxisIndex: gi, yAxisIndex: gi, silent: true, encode: { x: 0, y: [1, 2, 3, 4, 5] },
        renderItem: boxRenderer(fp.colors, { width: 0.75, stroke: '#444', lineWidth: 0.7, median: '#2a2a2a', medianWidth: 1, whiskerWidth: 0.7 }),
        data: fp.boxes[k].map((b, i) => [i + 1, ...b]),
      });
      series.push({
        type: 'scatter', xAxisIndex: gi, yAxisIndex: gi, silent: true, symbolSize: 3.6, itemStyle: { color: '#222' },
        data: fp.outliers[k].flatMap((vals, i) => vals.map((v) => [i + 1, v])),
      });
      graphic.push({ type: 'rect', silent: true, shape: { x: left, y: top - fp.stripH, width: fp.w, height: fp.stripH }, style: { fill: '#d9d9d9', stroke: '#a39e9c', lineWidth: 1 } });
      graphic.push(label(left + fp.w / 2, top - fp.stripH / 2, strip, fp.stripSize, { align: 'center', fill: '#333' }));
    });
    graphic.push(label(fp.title[0], fp.title[1], 'Cancer: LUAD', fp.titleSize, { fill: '#222' }));
    graphic.push(label(fp.xTitle[1] as number, fp.xTitle[2] as number, fp.xTitle[0] as string, fp.axisSize, { align: 'center', fill: '#222' }));
    graphic.push(label(fp.yTitle[0], fp.yTitle[1], 'Gene expression', fp.axisSize, { rotation: Math.PI / 2, align: 'center', fill: '#222' }));
    const lg = fp.legend;
    graphic.push(label(lg.x, lg.y, lg.title, fp.axisSize, { fill: '#222' }));
    fp.levels.forEach((lvl, i) => {
      const cy = lg.first + i * lg.step;
      const midX = lg.keyX + lg.keyW / 2;
      graphic.push({ type: 'line', silent: true, shape: { x1: midX, y1: cy - 6, x2: midX, y2: cy + 6 }, style: { stroke: '#444', lineWidth: 0.7 } });
      graphic.push({ type: 'rect', silent: true, shape: { x: lg.keyX, y: cy - 4, width: lg.keyW, height: 8 }, style: { fill: fp.colors[i], stroke: '#444', lineWidth: 0.7 } });
      graphic.push({ type: 'line', silent: true, shape: { x1: lg.keyX, y1: cy, x2: lg.keyX + lg.keyW, y2: cy }, style: { stroke: '#2a2a2a', lineWidth: 1 } });
      graphic.push(label(lg.textX, cy, lvl, 7.8, { fill: '#444' }));
    });
  });

  // Panel G
  const gLeft = 15.3;
  const gStep = 59.03;
  const gTop = 912;
  const gRow = 67.8;
  genes.forEach((g, c) => {
    const x = gLeft + c * gStep;
    graphic.push({ type: 'rect', silent: true, shape: { x, y: 896, width: 54, height: 16 }, style: { fill: '#d9d9d9' } });
    graphic.push(label(x + 27, 904, g, 8.2, { align: 'center', fill: '#333' }));
  });
  scoreNames.forEach((name, r) => {
    const top = gTop + r * gRow;
    graphic.push({ type: 'rect', silent: true, shape: { x: 1014, y: top, width: 16, height: 62.7 }, style: { fill: '#d9d9d9' } });
    graphic.push(label(1022, top + 31, name, 8.3, { rotation: -Math.PI / 2, align: 'center', fill: '#333' }));
    genes.forEach((_, c) => {
      const left = gLeft + c * gStep;
      const gi = grid.length;
      grid.push({ left, top, width: 54, height: 62.7, show: true, borderWidth: 0, backgroundColor: '#ebebeb' });
      xAxis.push({ type: 'value', gridIndex: gi, min: 0, max: 100, interval: 25, axisLine: { show: false }, axisTick: { show: false }, axisLabel: { show: false }, splitLine: { show: true, lineStyle: { color: '#fff', width: 0.7 } } });
      yAxis.push({ type: 'value', gridIndex: gi, min: 0, max: 100, interval: 25, axisLine: { show: false }, axisTick: { show: false }, axisLabel: { show: false }, splitLine: { show: true, lineStyle: { color: '#fff', width: 0.7 } } });
      series.push({
        type: 'scatter', xAxisIndex: gi, yAxisIndex: gi, silent: true, symbolSize: 2, itemStyle: { color: '#0c0c0c' },
        data: geneSamples[c].slice(0, scoreSamples[r].length).map((v, i) => [v, scoreSamples[r][i]]),
      });
      series.push({
        type: 'line', xAxisIndex: gi, yAxisIndex: gi, silent: true, showSymbol: false, lineStyle: { color: '#0f62b8', width: 1.6 },
        data: [[4, trendLeft[r][c]], [96, trendRight[r][c]]],
      });
      graphic.push(label(left + 3, top + 6, corrLabels[r][c], 3.6, { fill: '#555' }));
    });
  });
  graphic.push(label(15.3, 885, 'Cancer: LUAD', 11, { fill: '#222' }));
  graphic.push(label(514, 1255, 'Gene expression', 9.2, { align: 'center', fill: '#222' }));

  return { animation: false, backgroundColor: '#fff', textStyle: { fontFamily: FONT }, grid, xAxis, yAxis, series, graphic: { elements: graphic } };
}

export default function App() {
  const chartRef = useRef<HTMLDivElement>(null);

  useEffect(() => {
    if (!chartRef.current) return;
    const chart = echarts.init(chartRef.current, undefined, { renderer: 'svg' });
    chart.setOption(buildOption() as any);
    return () => {
      chart.dispose();
    };
  }, []);

  return <div ref={chartRef} style={{ position: 'absolute', left: 0, top: 0, width: 1031, height: 1262 }} />;
}
